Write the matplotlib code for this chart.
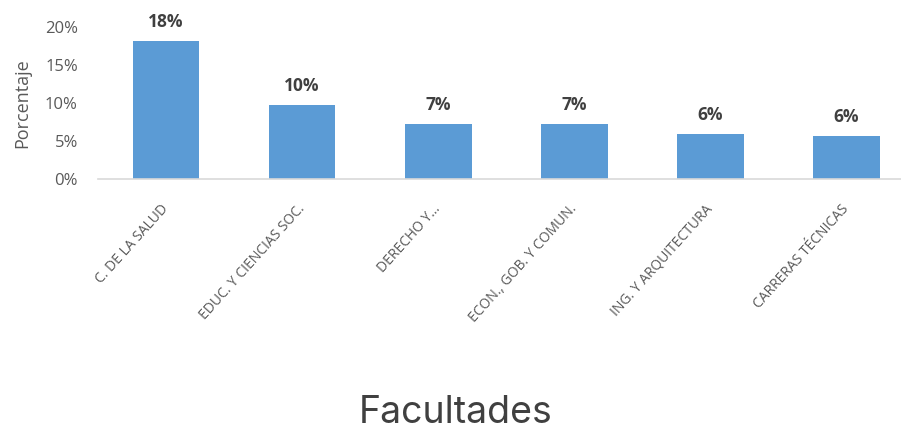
import numpy as np
from matplotlib import pyplot as plt

facultades = ["C. DE LA SALUD", "EDUC. Y CIENCIAS SOC.", "DERECHO Y...",
              "ECON., GOB. Y COMUN.", "ING. Y ARQUITECTURA", "CARRERAS TÉCNICAS"]
porcentajes = [18.2, 9.7, 7.2, 7.2, 5.9, 5.7]
etiquetas = ["18%", "10%", "7%", "7%", "6%", "6%"]

plt.rcParams['font.family'] = ['Open Sans', 'DejaVu Sans']

fig = plt.figure(figsize=(9.01, 4.32), dpi=100)
ax = fig.add_axes([98 / 901, 1 - 179 / 432, 1 - 98 / 901, (179 - 27) / 432])

x = np.arange(len(facultades))
bars = ax.bar(x, porcentajes, width=0.49, color="#5B9BD5", zorder=2)
for b, lab in zip(bars, etiquetas):
    ax.text(b.get_x() + b.get_width() / 2, b.get_height() + 1.3, lab,
            ha="center", va="bottom", fontsize=12.5, fontweight="bold",
            color="#404040", clip_on=False)

ax.set_xlim(-0.5, 5.4)
ax.set_ylim(0, 20)
ax.set_yticks([0, 5, 10, 15, 20])
ax.set_yticklabels(["0%", "5%", "10%", "15%", "20%"])
ax.set_xticks(x)
ax.set_xticklabels(facultades, rotation=48, ha="right", va="center",
                   rotation_mode="anchor", fontsize=10, color="#595959")
ax.tick_params(axis="y", length=0, labelsize=12, labelcolor="#595959", pad=14.5)
ax.tick_params(axis="x", length=0, pad=20)

for s in ["top", "right", "left"]:
    ax.spines[s].set_visible(False)
ax.spines["bottom"].set_color("#D9D9D9")
ax.spines["bottom"].set_linewidth(1.2)

fig.text(22 / 901, 1 - 103 / 432, "Porcentaje", rotation=90, ha="center",
         va="center", fontsize=13, color="#595959")
fig.text(456 / 901, 1 - 413 / 432, "Facultades", ha="center", va="center",
         fontsize=27, color="#404040", family=["Inter", "DejaVu Sans"])

plt.savefig("out.png", dpi=100)
